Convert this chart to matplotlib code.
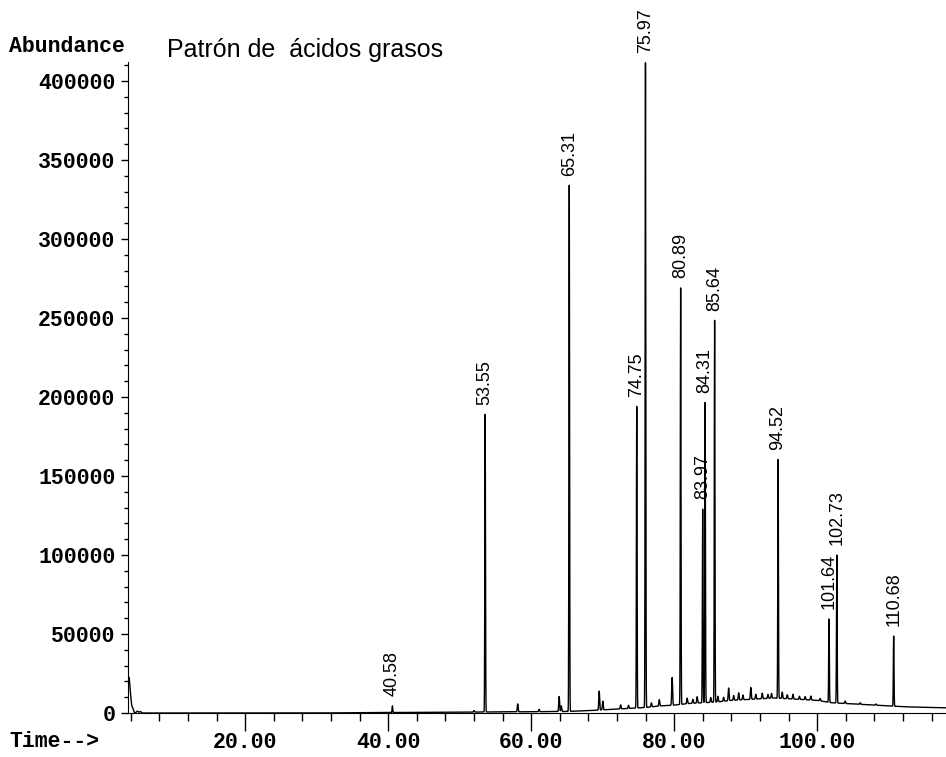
import numpy as np
import matplotlib.pyplot as plt
from matplotlib.ticker import MultipleLocator, FormatStrFormatter

# retention times (min) and apex abundances of the labelled peaks
peak_times = [40.58, 53.55, 65.31, 74.75, 75.97, 80.89, 83.97, 84.31,
              85.64, 94.52, 101.64, 102.73, 110.68]
peak_heights = [4500, 189000, 334000, 194000, 411500, 269000, 129000, 196500,
                248500, 160500, 59500, 100000, 48700]

# small unlabelled peaks (time, height above baseline)
minor_times = [3.72, 3.95, 4.25, 4.9, 5.3, 52.0, 58.1, 61.1, 63.9, 64.2,
               69.5, 70.0, 72.5, 73.6, 76.8, 77.9, 79.7, 81.8, 82.6, 83.2,
               85.1, 86.1, 86.9, 87.6, 88.3, 89.0, 89.6, 90.7, 91.4, 92.3,
               93.1, 93.6, 95.1, 95.8, 96.6, 97.5, 98.3, 99.1, 100.4, 103.9,
               106.0, 108.2]
minor_heights = [21000, 9000, 3000, 1200, 1000, 1000, 5000, 1500, 9500, 3500,
                 12000, 5500, 2500, 2000, 2500, 4000, 17500, 3500, 2500, 4000,
                 3000, 3500, 2500, 8000, 3000, 4500, 3000, 7500, 3000, 3500,
                 2500, 3000, 4000, 2500, 3000, 2000, 2000, 2500, 1500, 1500,
                 1000, 800]

# baseline drift read every few minutes
base_t = [3.6, 10, 20, 30, 40, 50, 55, 60, 65, 68, 70, 72, 74, 76, 78, 80,
          82, 84, 86, 88, 90, 92, 94, 96, 98, 100, 102, 104, 106, 108, 110,
          112, 114, 116, 118]
base_y = [0, 0, 0, 0, 300, 500, 700, 800, 1000, 1500, 2000, 2500, 3000, 3500,
          4500, 5000, 6000, 6500, 7000, 8000, 8500, 9000, 9500, 9000, 8500,
          8000, 6500, 6000, 5500, 5000, 4500, 4000, 3700, 3500, 3300]

mono = 'Liberation Mono'
sans = 'Liberation Sans'

t = np.sort(np.concatenate([np.arange(3.6, 118.0, 0.01), peak_times]))
signal = np.interp(t, base_t, base_y)
for pt, ph in zip(peak_times, peak_heights):
    amp = ph - np.interp(pt, base_t, base_y)
    signal += amp * np.exp(-0.5 * ((t - pt) / 0.045) ** 2)
for mt, mh in zip(minor_times, minor_heights):
    w = 0.12 if mt < 6 else 0.06
    signal += mh * np.exp(-0.5 * ((t - mt) / w) ** 2)

fig = plt.figure(figsize=(9.46, 7.57), dpi=100)
ax = fig.add_axes([0.1353, 0.0581, 0.8647, 0.86])
ax.plot(t, signal, color='black', lw=1.0)

ax.set_xlim(3.6, 118.0)
ax.set_ylim(0, 412000)
ax.spines['top'].set_visible(False)
ax.spines['right'].set_visible(False)

ax.xaxis.set_major_locator(MultipleLocator(20))
ax.xaxis.set_minor_locator(MultipleLocator(4))
ax.xaxis.set_major_formatter(FormatStrFormatter('%.2f'))
ax.yaxis.set_major_locator(MultipleLocator(50000))
ax.yaxis.set_minor_locator(MultipleLocator(10000))
ax.tick_params(axis='x', which='major', length=13, width=1, pad=1)
ax.tick_params(axis='x', which='minor', length=6, width=1)
ax.tick_params(axis='y', which='major', length=5, width=1, pad=4)
ax.tick_params(axis='y', which='minor', length=3, width=1)
for lab in ax.get_xticklabels() + ax.get_yticklabels():
    lab.set_family(mono)
    lab.set_fontsize(15.5)
    lab.set_weight('bold')

for pt, ph in zip(peak_times, peak_heights):
    ax.annotate('%.2f' % pt, (pt, ph), xytext=(0, 7),
                textcoords='offset points', rotation=90, ha='center',
                va='bottom', fontsize=13, family=sans,
                annotation_clip=False)

fig.text(0.01, 0.931, 'Abundance', family=mono, fontsize=15.5,
         weight='bold', va='baseline')
fig.text(0.177, 0.925, 'Patrón de  ácidos grasos', family=sans,
         fontsize=18, va='baseline')
fig.text(0.01, 0.013, 'Time-->', family=mono, fontsize=15.5,
         weight='bold', va='baseline')

fig.savefig('out.png', dpi=100)
